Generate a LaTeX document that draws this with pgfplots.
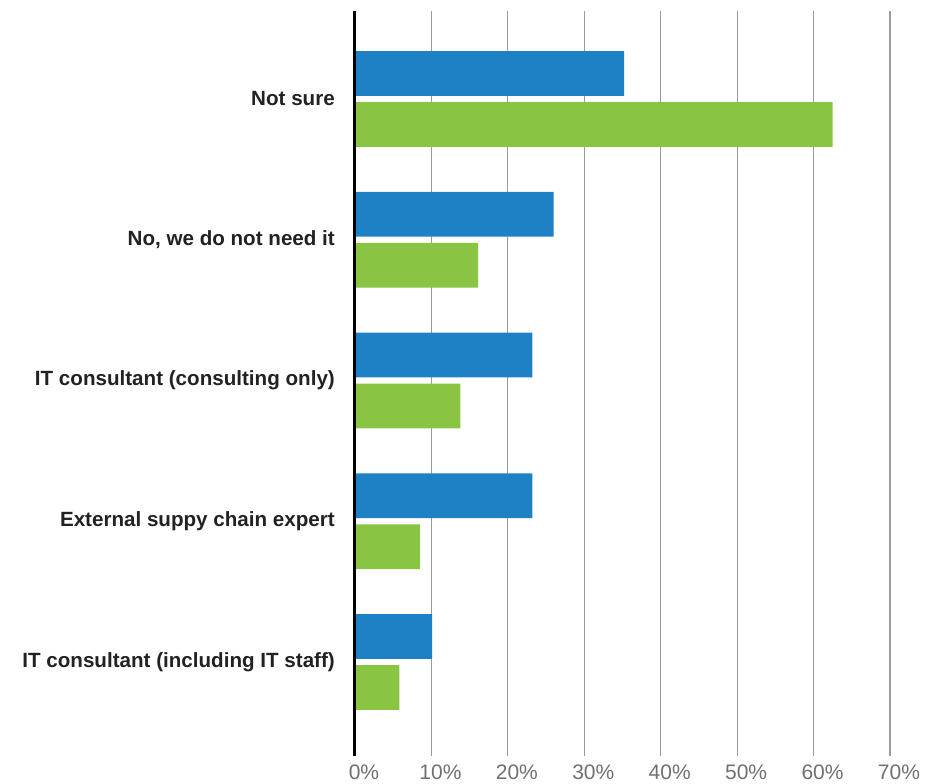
\documentclass[border=0pt]{standalone}
\usepackage{pgfplots}
\pgfplotsset{compat=1.18}
\usepackage{fontspec}
\setmainfont{Liberation Sans}
\definecolor{barblue}{RGB}{30,129,198}
\definecolor{bargreen}{RGB}{138,196,67}
\definecolor{gridgray}{RGB}{155,155,155}
\definecolor{ticktext}{RGB}{112,112,112}
\definecolor{labtext}{RGB}{34,34,34}
\begin{document}
\begin{tikzpicture}
\begin{axis}[
  scale only axis,
  width=535bp, height=745bp,
  xmin=0, xmax=70,
  ymin=-0.625, ymax=4.668,
  y dir=reverse,
  xbar,
  bar width=44.7bp,
  axis line style={draw=none},
  xmajorgrids,
  grid style={gridgray, line width=1.2bp},
  xtick={0,10,...,70},
  major tick length=0pt,
  tick style={draw=none},
  /pgf/number format/assume math mode=true,
  xticklabel={\pgfmathprintnumber{\tick}\%},
  xticklabel style={font=\fontsize{21bp}{24bp}\selectfont, text=ticktext, inner sep=0pt, yshift=-9bp, xshift=9bp},
  ytick={0,1,2,3,4},
  yticklabels={Not sure, {No, we do not need it}, IT consultant (consulting only), External suppy chain expert, IT consultant (including IT staff)},
  yticklabel style={font=\bfseries\fontsize{20.6bp}{24bp}\selectfont, text=labtext, inner sep=0pt, xshift=-20bp},
  clip=false,
]
\addplot[fill=barblue, draw=none, bar shift=25.5bp] coordinates {(35.2,0) (26.0,1) (23.2,2) (23.2,3) (10.1,4)};
\addplot[fill=bargreen, draw=none, bar shift=-25.5bp] coordinates {(62.5,0) (16.1,1) (13.8,2) (8.5,3) (5.8,4)};
\draw[black, line width=3bp] (axis cs:0,-0.625) -- (axis cs:0,4.668);
\end{axis}
\path (current axis.south west) ++(-355bp,-28bp) rectangle ++(941bp,784bp);
\end{tikzpicture}
\end{document}
